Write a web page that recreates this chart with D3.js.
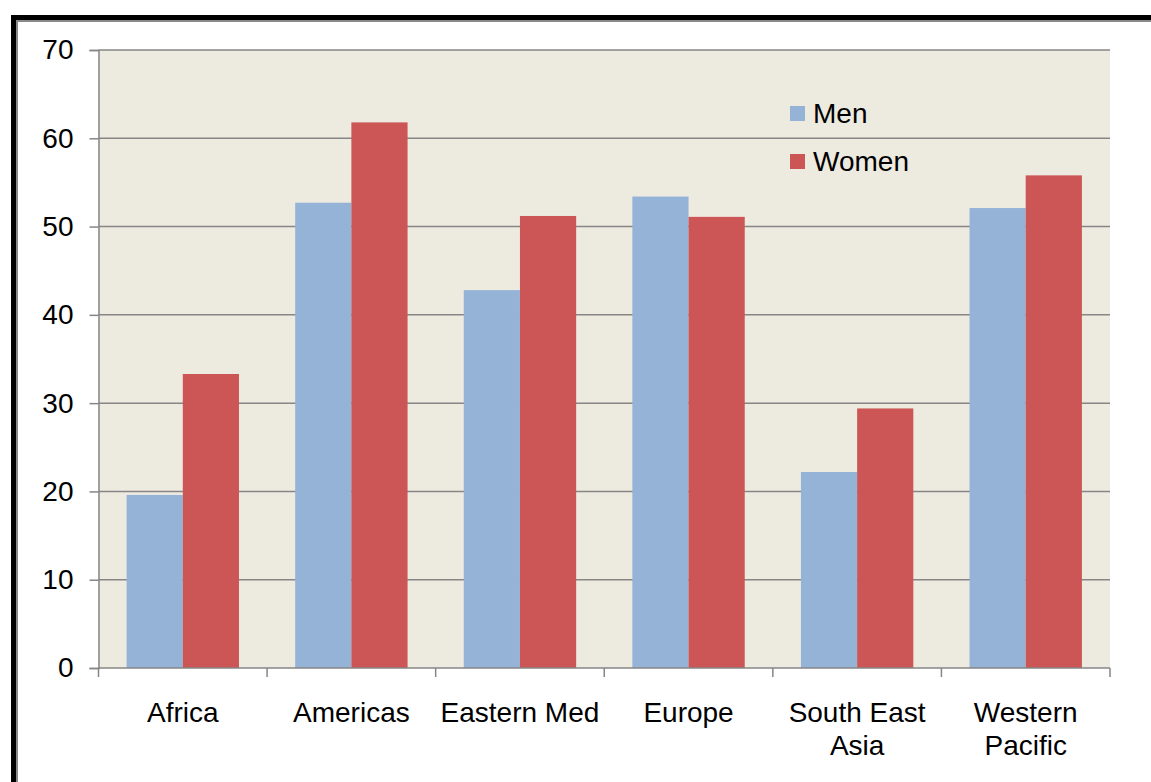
<!DOCTYPE html>
<html>
<head>
<meta charset="utf-8">
<script src="https://cdn.jsdelivr.net/npm/d3@7"></script>
<style>
  body { margin: 0; background: #fff; }
  svg { display: block; font-family: "Liberation Sans", Arial, sans-serif; }
</style>
</head>
<body>
<svg id="chart" width="1151" height="782"></svg>
<script>
// regions along the x axis (second line after \n)
const regions = ["Africa", "Americas", "Eastern Med", "Europe", "South East\nAsia", "Western\nPacific"];
const seriesNames = ["Men", "Women"];
const men = [19.6, 52.7, 42.8, 53.4, 22.2, 52.1];
const women = [33.3, 61.8, 51.2, 51.1, 29.4, 55.8];
const yTicks = [0, 10, 20, 30, 40, 50, 60, 70];

const colors = { Men: "#95b3d7", Women: "#cb5655" };

const svg = d3.select("#chart");

// frame lines at the top and left
svg.append("rect").attr("x", 11).attr("y", 15).attr("width", 1140).attr("height", 5).attr("fill", "#000");
svg.append("rect").attr("x", 11).attr("y", 15).attr("width", 5).attr("height", 767).attr("fill", "#000");
svg.append("rect").attr("x", 16).attr("y", 20).attr("width", 1135).attr("height", 2).attr("fill", "#8a8a8a");
svg.append("rect").attr("x", 16).attr("y", 20).attr("width", 2).attr("height", 762).attr("fill", "#8a8a8a");

const plotLeft = 98.5, plotRight = 1110, plotTop = 50, plotBottom = 668;

const x = d3.scaleBand()
  .domain(regions)
  .range([plotLeft, plotRight])
  .paddingInner(0)
  .paddingOuter(0);

const inner = d3.scaleBand()
  .domain(seriesNames)
  .range([0, x.bandwidth()])
  .paddingOuter(0.5)
  .paddingInner(0);

const y = d3.scaleLinear()
  .domain([0, 70])
  .range([plotBottom, plotTop]);

// plot background
svg.append("rect")
  .attr("x", plotLeft).attr("y", plotTop)
  .attr("width", plotRight - plotLeft).attr("height", plotBottom - plotTop)
  .attr("fill", "#edeae0");

// gridlines
svg.append("g")
  .selectAll("line")
  .data(yTicks.filter(d => d > 0))
  .enter()
  .append("line")
  .attr("x1", plotLeft).attr("x2", plotRight)
  .attr("y1", d => y(d)).attr("y2", d => y(d))
  .attr("stroke", "#868686")
  .attr("stroke-width", 1.5);

// bars
const rows = regions.map((r, i) => ({ region: r, Men: men[i], Women: women[i] }));

const groups = svg.append("g")
  .selectAll("g")
  .data(rows)
  .enter()
  .append("g")
  .attr("transform", d => "translate(" + x(d.region) + ",0)");

groups.selectAll("rect")
  .data(d => seriesNames.map(s => ({ key: s, value: d[s] })))
  .enter()
  .append("rect")
  .attr("x", d => inner(d.key))
  .attr("width", inner.bandwidth())
  .attr("y", d => y(d.value))
  .attr("height", d => y(0) - y(d.value))
  .attr("fill", d => colors[d.key]);

// y axis
const yAxis = d3.axisLeft(y)
  .tickValues(yTicks)
  .tickSize(9)
  .tickPadding(16)
  .tickFormat(d3.format("d"));

const gy = svg.append("g")
  .attr("transform", "translate(" + plotLeft + ",0)")
  .call(yAxis);
gy.select(".domain").attr("stroke", "#868686").attr("stroke-width", 1.5);
gy.selectAll(".tick line").attr("stroke", "#868686").attr("stroke-width", 1.5);
gy.selectAll(".tick text")
  .attr("font-size", "28px")
  .attr("fill", "#000")
  .attr("font-family", "Liberation Sans, Arial, sans-serif");

// x axis line and boundary ticks
svg.append("line")
  .attr("x1", plotLeft).attr("x2", plotRight)
  .attr("y1", plotBottom).attr("y2", plotBottom)
  .attr("stroke", "#868686").attr("stroke-width", 1.5);

const bounds = regions.map(r => x(r)).concat([plotRight]);
svg.append("g")
  .selectAll("line")
  .data(bounds)
  .enter()
  .append("line")
  .attr("x1", d => d).attr("x2", d => d)
  .attr("y1", plotBottom).attr("y2", plotBottom + 9)
  .attr("stroke", "#868686").attr("stroke-width", 1.5);

// category labels
const labels = svg.append("g")
  .selectAll("text")
  .data(regions)
  .enter()
  .append("text")
  .attr("x", d => x(d) + x.bandwidth() / 2)
  .attr("y", 722)
  .attr("text-anchor", "middle")
  .attr("font-size", "28px")
  .attr("fill", "#000");

labels.each(function(d) {
  const parts = d.split("\n");
  const t = d3.select(this);
  parts.forEach((p, i) => {
    t.append("tspan")
      .attr("x", x(d) + x.bandwidth() / 2)
      .attr("dy", i === 0 ? 0 : 33)
      .text(p);
  });
});

// legend
const legend = svg.append("g")
  .selectAll("g")
  .data(seriesNames)
  .enter()
  .append("g")
  .attr("transform", (d, i) => "translate(790," + (106 + i * 48) + ")");

legend.append("rect")
  .attr("width", 15).attr("height", 15)
  .attr("fill", d => colors[d]);

legend.append("text")
  .attr("x", 23)
  .attr("y", 17)
  .attr("font-size", "28px")
  .attr("fill", "#000")
  .text(d => d);
</script>
</body>
</html>
